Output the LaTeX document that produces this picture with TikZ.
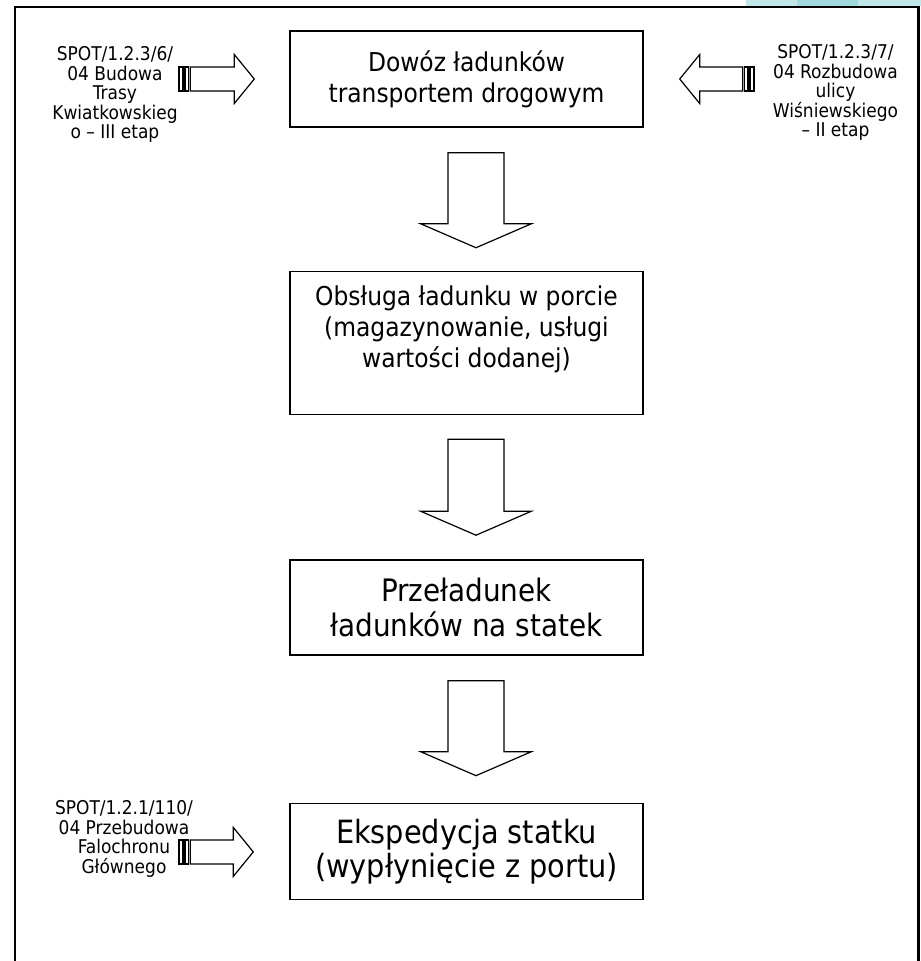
\documentclass[tikz,border=0pt]{standalone}
\usepackage{fontspec}
\setmainfont{DejaVu Sans Condensed}
\usepackage{tikz}
\usetikzlibrary{positioning}
\usetikzlibrary{calc}
\definecolor{paleteal}{HTML}{C2E7E8}
\definecolor{midteal}{HTML}{A0DADC}
\tikzset {
  % process stages
  stage/.style = {draw, line width=1.1pt, minimum width=264.75pt, align=center},
  % project labels at the sides
  spot/.style = {align=center, font=\fontsize{14.2}{14.6}\selectfont},
  % hollow block arrows
  hollow/.style = {draw, fill=white, line width=0.9pt, line join=miter},
}
% block arrow: tail, tip, shaft half width, head half width, head length
\newcommand{\fatarrow}[5]{
  \coordinate (fa-s) at ($(#2)!#5!(#1)$);
  \draw[hollow] ($(#1)!#3!90:(#2)$) -- ($(fa-s)!#3!90:(#2)$) -- ($(fa-s)!#4!90:(#2)$) -- (#2)
    -- ($(fa-s)!#4!-90:(#2)$) -- ($(fa-s)!#3!-90:(#2)$) -- ($(#1)!#3!-90:(#2)$) -- cycle;
}
% striped side arrow: tail, tip
\newcommand{\stripedarrow}[2]{
  \fatarrow{#1}{#2}{9pt}{18.4pt}{15pt}
  \coordinate (sb-a) at ($(#1)!-1.5pt!(#2)$);
  \coordinate (sb-b) at ($(#1)!-4pt!(#2)$);
  \coordinate (sb-c) at ($(#1)!-5.5pt!(#2)$);
  \coordinate (sb-d) at ($(#1)!-8.5pt!(#2)$);
  \draw[hollow] ($(sb-a)!9pt!90:(#2)$) -- ($(sb-b)!9pt!90:(#2)$) -- ($(sb-b)!9pt!-90:(#2)$) -- ($(sb-a)!9pt!-90:(#2)$) -- cycle;
  \draw[hollow] ($(sb-c)!9pt!90:(#2)$) -- ($(sb-d)!9pt!90:(#2)$) -- ($(sb-d)!9pt!-90:(#2)$) -- ($(sb-c)!9pt!-90:(#2)$) -- cycle;
}

\begin{document}
\begin{tikzpicture}[x=0.75pt, y=-0.75pt]
  \useasboundingbox (0,0) rectangle (921,961);
  % slide frame
  \fill[paleteal] (746,0) rectangle (921,6);
  \fill[midteal] (797,0) rectangle (858,6);
  \draw[line width=1.6pt] (15,961) -- (15,7) -- (918.5,7) -- (918.5,961);

  \node[stage, minimum height=72pt, font=\fontsize{19.5}{23.25}\selectfont] (delivery) at (466.5,79)
    {Dowóz ładunków\\transportem drogowym};
  \node[stage, minimum height=107.25pt, font=\fontsize{19.5}{23.25}\selectfont] (handling) [below=107.25pt of delivery]
    {Obsługa ładunku w porcie\\(magazynowanie, usługi\\wartości dodanej)\\[2pt]\mbox{}};
  \node[stage, minimum height=71.25pt, font=\fontsize{23.2}{26.25}\selectfont] (reload) [below=108pt of handling]
    {Przeładunek\\ładunków na statek};
  \node[stage, minimum height=72pt, font=\fontsize{24}{25.5}\selectfont] (departure) [below=110.25pt of reload]
    {Ekspedycja statku\\(wypłynięcie z portu)};

  \node[spot] (trasa) at (115,94.5) {SPOT/1.2.3/6/\\04 Budowa\\Trasy\\Kwiatkowskieg\\o – III etap};
  \node[spot] (ulica) at (835.5,92.5) {SPOT/1.2.3/7/\\04 Rozbudowa\\ulicy\\Wiśniewskiego\\– II etap};
  \node[spot] (falochron) at (124,839) {SPOT/1.2.1/110/\\04 Przebudowa\\Falochronu\\Głównego};

  % flow between the stages
  \coordinate (d1t) at ($(delivery.south)+(9.5,25)$);
  \coordinate (d1h) at ($(handling.north)+(9.5,-23)$);
  \coordinate (d2t) at ($(handling.south)+(9.5,24)$);
  \coordinate (d2h) at ($(reload.north)+(9.5,-24)$);
  \coordinate (d3t) at ($(reload.south)+(9.5,25)$);
  \coordinate (d3h) at ($(departure.north)+(9.5,-27)$);
  \fatarrow{d1t}{d1h}{21pt}{41.6pt}{18pt}
  \fatarrow{d2t}{d2h}{21pt}{41.6pt}{18pt}
  \fatarrow{d3t}{d3h}{21pt}{41.6pt}{18pt}

  % projects feeding the stages
  \coordinate (trasa-t) at ($(delivery.west)+(-99,0)$);
  \coordinate (trasa-h) at ($(delivery.west)+(-35,0)$);
  \coordinate (ulica-t) at ($(delivery.east)+(99,0)$);
  \coordinate (ulica-h) at ($(delivery.east)+(36,0)$);
  \coordinate (falochron-t) at ($(departure.west)+(-99,0.5)$);
  \coordinate (falochron-h) at ($(departure.west)+(-36,0.5)$);
  \stripedarrow{trasa-t}{trasa-h}
  \stripedarrow{ulica-t}{ulica-h}
  \stripedarrow{falochron-t}{falochron-h}
\end{tikzpicture}
\end{document}
